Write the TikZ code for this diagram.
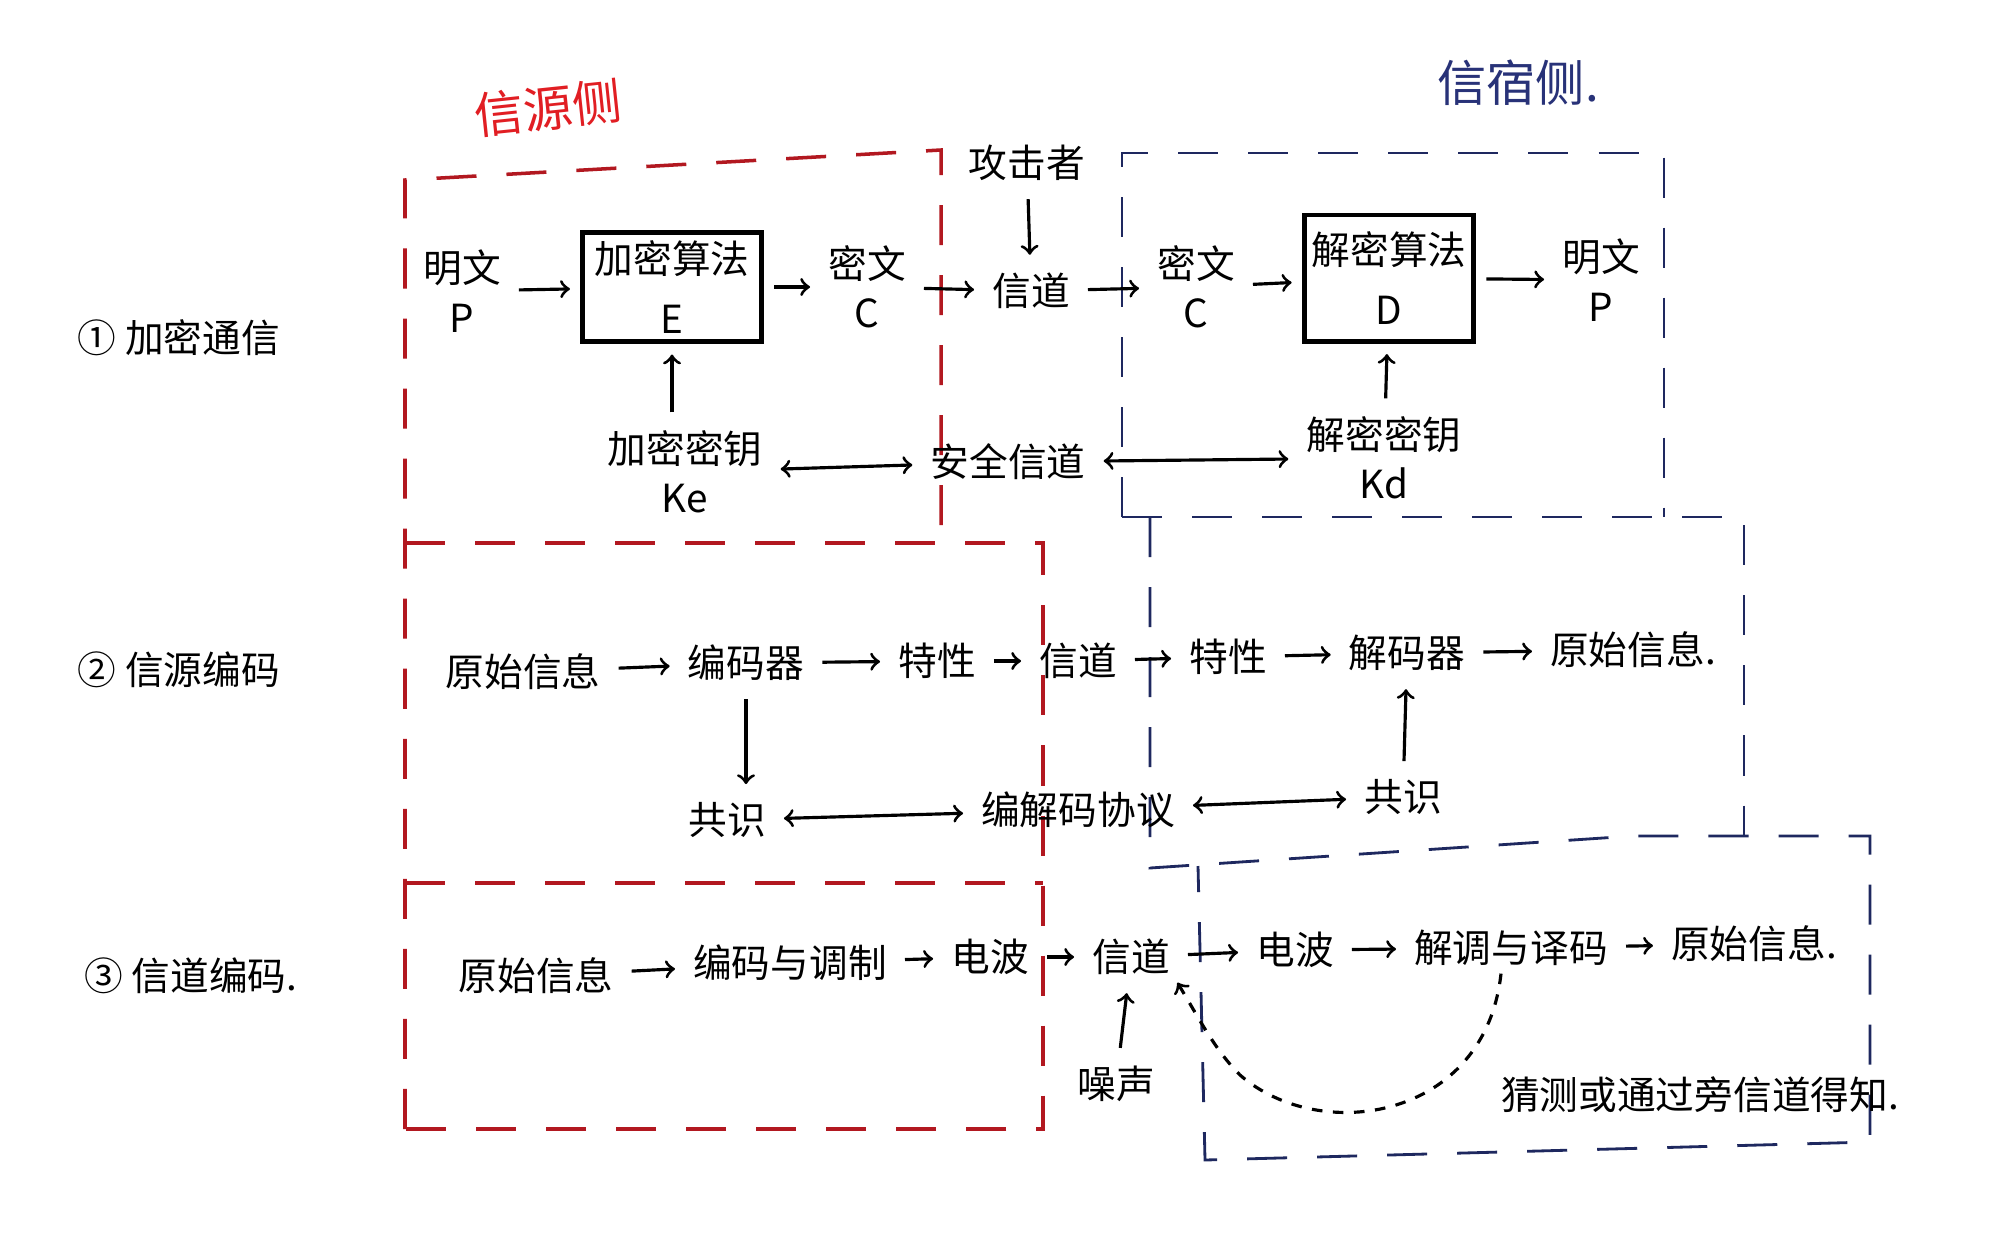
\documentclass[tikz,border=0pt]{standalone}
\usepackage{fontspec}
\setmainfont{Noto Sans CJK SC}
\definecolor{srcred}{RGB}{178,24,32}
\definecolor{labred}{RGB}{225,30,35}
\definecolor{sinkblue}{RGB}{30,40,95}
\definecolor{labblue}{RGB}{40,50,120}

\begin{document}
\begin{tikzpicture}[x=0.01cm,y=-0.01cm,font=\fontsize{11}{14}\selectfont,
    every node/.style={align=center,inner sep=2pt},
    alg/.style={draw,line width=1.4pt,minimum width=1.78cm,minimum height=1.09cm},
    flow/.style={->,line width=0.9pt,shorten <=3pt,shorten >=3pt},
    both/.style={<->,line width=0.9pt,shorten <=3pt,shorten >=3pt},
    side/.style={font=\fontsize{14}{17}\selectfont},
    srcframe/.style={draw=srcred,line width=1pt,dash pattern=on 4mm off 3mm},
    sinkframe/.style={draw=sinkblue,line width=0.8pt,dash pattern=on 4mm off 3mm}]
    \useasboundingbox[fill=white] (0,0) rectangle (2000,1245);

    % frames
    \draw[srcframe] (405,1129) -- (405,180) -- (941,150) -- (941,543);
    \draw[srcframe] (405,543) -- (1043,543) -- (1043,1129) -- (405,1129);
    \draw[srcframe] (405,883) -- (1043,883);
    \draw[sinkframe] (1122,517) -- (1122,153) -- (1664,153) -- (1664,517);
    \draw[sinkframe] (1122,517) -- (1744,517) -- (1744,836);
    \draw[sinkframe] (1150,517) -- (1150,868) -- (1633,836) -- (1870,836) -- (1870,1142) -- (1205,1160) -- (1198,866);

    % labels
    \node (row1) at (179,338) {① 加密通信};
    \node (row2) at (179,670) {② 信源编码};
    \node (row3) at (191,976) {③ 信道编码.};
    \node[side,text=labred,rotate=6] (srcside) at (548,108) {信源侧};
    \node[side,text=labblue] (sinkside) at (1518,83) {信宿侧.};

    % row 1
    \node (plain1) at (462,291) {明文\\P};
    \node[alg] (enc) at (672,287) {加密算法\\[3pt]E};
    \node (cipher1) at (867,287) {密文\\C};
    \node (chan1) at (1031,291) {信道};
    \node (attacker) at (1027,163) {攻击者};
    \node (cipher2) at (1196,287) {密文\\C};
    \node[alg,minimum width=1.68cm,minimum height=1.26cm] (dec) at (1389,278) {解密算法\\[3pt]D};
    \node (plain2) at (1601,280) {明文\\P};
    \node (ke) at (685,472) {加密密钥\\Ke};
    \node (secure) at (1008,462) {安全信道};
    \node (kd) at (1384,458) {解密密钥\\Kd};

    \draw[flow] (plain1) -- (enc);
    \draw[flow] (enc) -- (cipher1);
    \draw[flow] (cipher1) -- (chan1);
    \draw[flow] (attacker) -- (chan1);
    \draw[flow] (chan1) -- (cipher2);
    \draw[flow] (cipher2) -- (dec);
    \draw[flow] (dec) -- (plain2);
    \draw[flow] (ke.north -| enc.south) -- (enc.south);
    \draw[flow] (kd) -- (dec);
    \draw[both] (ke) -- (secure);
    \draw[both] (secure) -- (kd);

    % row 2
    \node (orig2) at (523,672) {原始信息};
    \node (coder) at (746,663) {编码器};
    \node (trait1) at (937,661) {特性};
    \node (chan2) at (1078,661) {信道};
    \node (trait2) at (1228,657) {特性};
    \node (decoder) at (1407,653) {解码器};
    \node (recv2) at (1633,650) {原始信息.};
    \node (agree1) at (727,820) {共识};
    \node (protocol) at (1078,810) {编解码协议};
    \node (agree2) at (1403,797) {共识};

    \draw[flow] (orig2) -- (coder);
    \draw[flow] (coder) -- (trait1);
    \draw[flow] (trait1) -- (chan2);
    \draw[flow] (chan2) -- (trait2);
    \draw[flow] (trait2) -- (decoder);
    \draw[flow] (decoder) -- (recv2);
    \draw[flow] (coder.south) -- (coder.south |- agree1.north);
    \draw[flow] (agree2) -- (decoder);
    \draw[both] (agree1) -- (protocol);
    \draw[both] (protocol) -- (agree2);

    % row 3
    \node (orig3) at (536,976) {原始信息};
    \node (modul) at (790,963) {编码与调制};
    \node (wave1) at (990,957) {电波};
    \node (chan3) at (1131,957) {信道};
    \node (wave2) at (1295,950) {电波};
    \node (demod) at (1511,948) {解调与译码};
    \node (recv3) at (1754,944) {原始信息.};
    \node (noise) at (1116,1084) {噪声};
    \node (guess) at (1700,1095) {猜测或通过旁信道得知.};

    \draw[flow] (orig3) -- (modul);
    \draw[flow] (modul) -- (wave1);
    \draw[flow] (wave1) -- (chan3);
    \draw[flow] (chan3) -- (wave2);
    \draw[flow] (wave2) -- (demod);
    \draw[flow] (demod) -- (recv3);
    \draw[flow] (noise) -- (chan3);
    \draw[->,line width=0.9pt,dashed] ([xshift=-0.1cm]demod.south) .. controls (1485,1120) and (1320,1145) .. (1240,1075) .. controls (1215,1050) and (1200,1020) .. (chan3.south east);
\end{tikzpicture}
\end{document}
